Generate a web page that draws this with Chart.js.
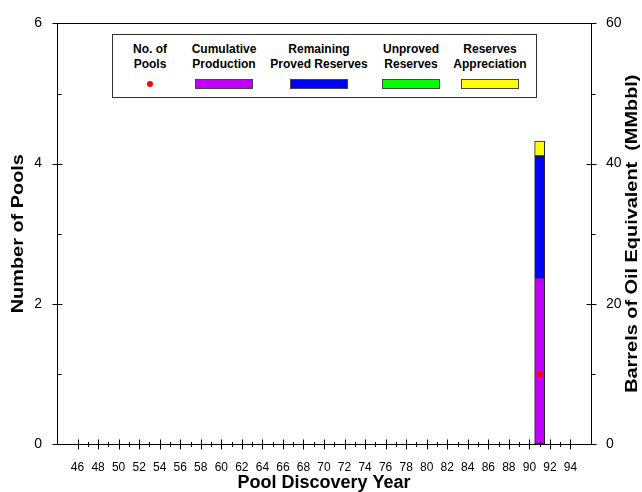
<!DOCTYPE html>
<html>
<head>
<meta charset="utf-8">
<script src="https://cdn.jsdelivr.net/npm/chart.js@4.4.0/dist/chart.umd.min.js"></script>
<style>
  body { margin: 0; background: #fff; }
  #wrap { position: relative; width: 642px; height: 492px; }
  #legend {
    position: absolute; left: 112px; top: 34px; width: 425px; height: 64px;
    box-sizing: border-box; border: 1px solid #333; background: #fff;
    display: flex; padding-left: 4px;
    font: bold 12px "Liberation Sans", Arial, sans-serif; color: #000;
  }
  #legend .col { text-align: center; line-height: 14.7px; padding-top: 7px; }
  #legend .sw { width: 58px; height: 10px; margin: 8px auto 0; border: 1px solid #444; box-sizing: border-box; }
  #legend .dot { width: 6px; height: 6px; border-radius: 50%; margin: 10px auto 0; }
</style>
</head>
<body>
<div id="wrap">
  <canvas id="poolChart" width="642" height="492"></canvas>
  <div id="legend"></div>
</div>
<script>
// values
var years = [91];
var pools = [1];
var cumulativeProduction = [23.7];
var remainingProved = [17.4];
var unprovedReserves = [0];
var reservesAppreciation = [2.1];

var yearTicks = [46, 48, 50, 52, 54, 56, 58, 60, 62, 64, 66, 68, 70, 72, 74, 76, 78, 80, 82, 84, 86, 88, 90, 92, 94];
var poolTicks = [0, 2, 4, 6];
var boeTicks = [0, 20, 40, 60];

var seriesNames = [['No. of', 'Pools'], ['Cumulative', 'Production'], ['Remaining', 'Proved Reserves'], ['Unproved', 'Reserves'], ['Reserves', 'Appreciation']];
var seriesColors = ['#ff0000', '#bf00ff', '#0000ff', '#00ff00', '#ffff00'];
var legendWidths = [66, 82, 108, 76, 82];
var leftTitle = 'Number of Pools';
var rightTitle = 'Barrels of Oil Equivalent  (MMbbl)';

function points(values) {
    return years.map(function (y, i) {
        return { x: y, y: values[i] };
    });
}

function barSet(label, values, color) {
    return {
        type: 'bar',
        label: label,
        data: points(values),
        backgroundColor: color,
        borderColor: '#222',
        borderWidth: 1,
        borderSkipped: false,
        barThickness: 10,
        yAxisID: 'y2',
        stack: 'boe',
        order: 1
    };
}

// vertical title, read bottom to top, a bit stretched along its length like the original
function sideTitle(ctx, text, x, y) {
    ctx.save();
    ctx.translate(x, y);
    ctx.rotate(-Math.PI / 2);
    ctx.scale(1.17, 1);
    ctx.fillStyle = '#000';
    ctx.font = 'bold 17px "Liberation Sans"';
    ctx.textAlign = 'center';
    ctx.textBaseline = 'middle';
    ctx.fillText(text, 0, 0);
    ctx.restore();
}

// tick marks crossing the axes, long at labelled values, short between
const tickMarks = {
    id: 'tickMarks',
    afterDraw(chart) {
        const ctx = chart.ctx;
        const a = chart.chartArea;
        const s = chart.scales;
        ctx.save();
        ctx.strokeStyle = '#000';
        ctx.lineWidth = 1;
        ctx.strokeRect(Math.round(a.left) + 0.5, Math.round(a.top) + 0.5,
            Math.round(a.right - a.left), Math.round(a.bottom - a.top));
        ctx.beginPath();
        var yb = Math.round(a.bottom) + 0.5;
        for (var v = yearTicks[0]; v <= yearTicks[yearTicks.length - 1]; v++) {
            var px = Math.round(s.x.getPixelForValue(v)) + 0.5;
            var len = yearTicks.indexOf(v) >= 0 ? 5 : 2.5;
            ctx.moveTo(px, yb - len);
            ctx.lineTo(px, yb + len);
        }
        var xl = Math.round(a.left) + 0.5;
        s.y.ticks.forEach(function (t) {
            var py = Math.round(s.y.getPixelForValue(t.value)) + 0.5;
            if (poolTicks.indexOf(t.value) >= 0) {
                ctx.moveTo(xl - 5, py); ctx.lineTo(xl + 5, py);
            } else {
                ctx.moveTo(xl, py); ctx.lineTo(xl + 4, py);
            }
        });
        var xr = Math.round(a.right) + 0.5;
        s.y2.ticks.forEach(function (t) {
            var py = Math.round(s.y2.getPixelForValue(t.value)) + 0.5;
            if (boeTicks.indexOf(t.value) >= 0) {
                ctx.moveTo(xr - 5, py); ctx.lineTo(xr + 5, py);
            } else {
                ctx.moveTo(xr, py); ctx.lineTo(xr + 4, py);
            }
        });
        ctx.stroke();
        ctx.restore();

        var midY = (a.top + a.bottom) / 2;
        sideTitle(ctx, leftTitle, s.y.left + 18, midY);
        sideTitle(ctx, rightTitle, s.y2.right - 10, midY);
    }
};

const config = {
    type: 'bar',
    data: {
        datasets: [
            {
                type: 'line',
                label: 'No. of Pools',
                data: points(pools),
                showLine: false,
                pointRadius: 3.2,
                pointBorderWidth: 0,
                pointBackgroundColor: seriesColors[0],
                yAxisID: 'y',
                order: 0
            },
            barSet('Cumulative Production', cumulativeProduction, seriesColors[1]),
            barSet('Remaining Proved Reserves', remainingProved, seriesColors[2]),
            barSet('Unproved Reserves', unprovedReserves, seriesColors[3]),
            barSet('Reserves Appreciation', reservesAppreciation, seriesColors[4])
        ]
    },
    options: {
        responsive: false,
        animation: false,
        layout: { padding: { top: 19 } },
        plugins: { legend: { display: false }, tooltip: { enabled: false } },
        scales: {
            x: {
                type: 'linear',
                min: 44,
                max: 96,
                offset: false,
                stacked: true,
                grid: { display: false, drawTicks: false },
                border: { color: '#000' },
                ticks: {
                    stepSize: 1,
                    autoSkip: false,
                    maxRotation: 0,
                    padding: 16,
                    color: '#000',
                    font: { family: 'Liberation Sans', size: 12 },
                    callback: function (v) { return yearTicks.indexOf(v) >= 0 ? String(v) : ''; }
                },
                title: { display: true, text: 'Pool Discovery Year', color: '#000',
                    font: { family: 'Liberation Sans', size: 18, weight: 'bold' }, padding: { top: 0, bottom: -2 } },
                afterFit: function (scale) { scale.height = 48; }
            },
            y: {
                position: 'left',
                min: 0,
                max: 6,
                grid: { display: false, drawTicks: false },
                border: { color: '#000' },
                ticks: {
                    stepSize: 1,
                    padding: 15,
                    color: '#000',
                    font: { family: 'Liberation Sans', size: 14 },
                    callback: function (v) { return poolTicks.indexOf(v) >= 0 ? String(v) : ''; }
                },
                title: { display: false },
                afterFit: function (scale) { scale.width = 57; }
            },
            y2: {
                position: 'right',
                min: 0,
                max: 60,
                stacked: true,
                grid: { display: false, drawTicks: false },
                border: { color: '#000' },
                ticks: {
                    stepSize: 10,
                    padding: 15,
                    color: '#000',
                    font: { family: 'Liberation Sans', size: 14 },
                    callback: function (v) { return boeTicks.indexOf(v) >= 0 ? String(v) : ''; }
                },
                title: { display: false },
                afterFit: function (scale) { scale.width = 51; }
            }
        }
    },
    plugins: [tickMarks]
};

const poolChart = new Chart(document.getElementById('poolChart'), config);

// legend box drawn as html over the plot
var legend = document.getElementById('legend');
seriesNames.forEach(function (lines, i) {
    var col = document.createElement('div');
    col.className = 'col';
    col.style.width = legendWidths[i] + 'px';
    col.innerHTML = lines.join('<br>');
    var mark = document.createElement('div');
    mark.className = i === 0 ? 'dot' : 'sw';
    mark.style.background = seriesColors[i];
    col.appendChild(mark);
    legend.appendChild(col);
});
</script>
</body>
</html>
